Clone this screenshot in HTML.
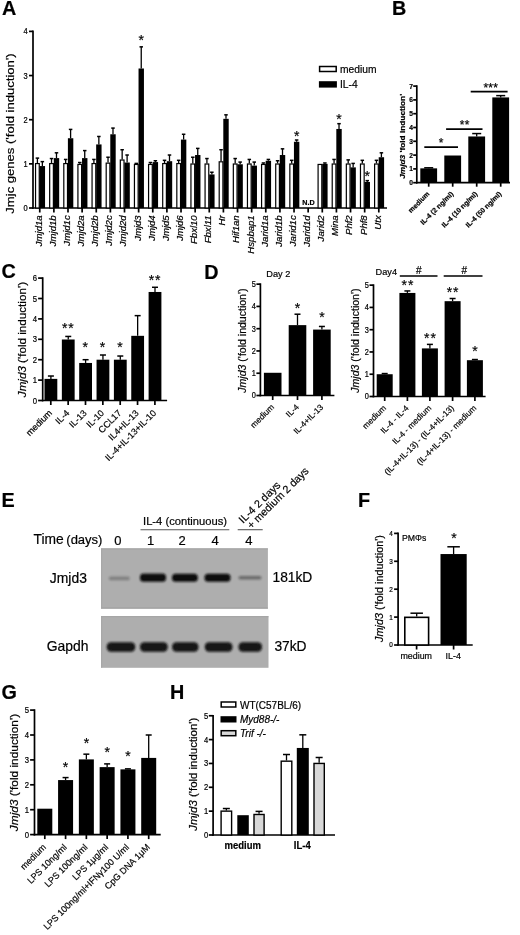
<!DOCTYPE html>
<html><head><meta charset="utf-8"><style>
html,body{margin:0;padding:0;background:#fff;}
body{width:520px;height:935px;overflow:hidden;}
svg{display:block;font-family:"Liberation Sans", sans-serif;}
</style></head><body>
<svg width="520" height="935" viewBox="0 0 520 935" font-family='"Liberation Sans", sans-serif'>
<defs><filter id="soft" x="0" y="0" width="100%" height="100%" filterUnits="userSpaceOnUse"><feGaussianBlur stdDeviation="0.35"/></filter></defs>
<rect x="0" y="0" width="520" height="935" fill="#fff"/>
<g filter="url(#soft)">
<text x="0" y="0" font-size="19.8" text-anchor="start" font-weight="bold" stroke="#000" stroke-width="0.2" fill="#000" transform="translate(1.90 15.30)">A</text>
<line x1="33.00" y1="30.55" x2="33.00" y2="208.85" stroke="#000" stroke-width="1.7"/>
<line x1="29.00" y1="208.00" x2="33.00" y2="208.00" stroke="#000" stroke-width="1.7"/>
<text x="0" y="0" font-size="7.5" text-anchor="end" stroke="#000" stroke-width="0.2" fill="#000" transform="translate(27.80 210.97) scale(1.000 1.100)">0</text>
<line x1="29.00" y1="163.85" x2="33.00" y2="163.85" stroke="#000" stroke-width="1.7"/>
<text x="0" y="0" font-size="7.5" text-anchor="end" stroke="#000" stroke-width="0.2" fill="#000" transform="translate(27.80 166.82) scale(1.000 1.100)">1</text>
<line x1="29.00" y1="119.70" x2="33.00" y2="119.70" stroke="#000" stroke-width="1.7"/>
<text x="0" y="0" font-size="7.5" text-anchor="end" stroke="#000" stroke-width="0.2" fill="#000" transform="translate(27.80 122.67) scale(1.000 1.100)">2</text>
<line x1="29.00" y1="75.55" x2="33.00" y2="75.55" stroke="#000" stroke-width="1.7"/>
<text x="0" y="0" font-size="7.5" text-anchor="end" stroke="#000" stroke-width="0.2" fill="#000" transform="translate(27.80 78.52) scale(1.000 1.100)">3</text>
<line x1="29.00" y1="31.40" x2="33.00" y2="31.40" stroke="#000" stroke-width="1.7"/>
<text x="0" y="0" font-size="7.5" text-anchor="end" stroke="#000" stroke-width="0.2" fill="#000" transform="translate(27.80 34.37) scale(1.000 1.100)">4</text>
<line x1="32.15" y1="208.00" x2="387.00" y2="208.00" stroke="#000" stroke-width="1.7"/>
<line x1="39.75" y1="208.00" x2="39.75" y2="212.50" stroke="#000" stroke-width="1.7"/>
<line x1="53.88" y1="208.00" x2="53.88" y2="212.50" stroke="#000" stroke-width="1.7"/>
<line x1="68.00" y1="208.00" x2="68.00" y2="212.50" stroke="#000" stroke-width="1.7"/>
<line x1="82.13" y1="208.00" x2="82.13" y2="212.50" stroke="#000" stroke-width="1.7"/>
<line x1="96.26" y1="208.00" x2="96.26" y2="212.50" stroke="#000" stroke-width="1.7"/>
<line x1="110.39" y1="208.00" x2="110.39" y2="212.50" stroke="#000" stroke-width="1.7"/>
<line x1="124.51" y1="208.00" x2="124.51" y2="212.50" stroke="#000" stroke-width="1.7"/>
<line x1="138.64" y1="208.00" x2="138.64" y2="212.50" stroke="#000" stroke-width="1.7"/>
<line x1="152.77" y1="208.00" x2="152.77" y2="212.50" stroke="#000" stroke-width="1.7"/>
<line x1="166.89" y1="208.00" x2="166.89" y2="212.50" stroke="#000" stroke-width="1.7"/>
<line x1="181.02" y1="208.00" x2="181.02" y2="212.50" stroke="#000" stroke-width="1.7"/>
<line x1="195.15" y1="208.00" x2="195.15" y2="212.50" stroke="#000" stroke-width="1.7"/>
<line x1="209.27" y1="208.00" x2="209.27" y2="212.50" stroke="#000" stroke-width="1.7"/>
<line x1="223.40" y1="208.00" x2="223.40" y2="212.50" stroke="#000" stroke-width="1.7"/>
<line x1="237.53" y1="208.00" x2="237.53" y2="212.50" stroke="#000" stroke-width="1.7"/>
<line x1="251.66" y1="208.00" x2="251.66" y2="212.50" stroke="#000" stroke-width="1.7"/>
<line x1="265.78" y1="208.00" x2="265.78" y2="212.50" stroke="#000" stroke-width="1.7"/>
<line x1="279.91" y1="208.00" x2="279.91" y2="212.50" stroke="#000" stroke-width="1.7"/>
<line x1="294.04" y1="208.00" x2="294.04" y2="212.50" stroke="#000" stroke-width="1.7"/>
<line x1="308.16" y1="208.00" x2="308.16" y2="212.50" stroke="#000" stroke-width="1.7"/>
<line x1="322.29" y1="208.00" x2="322.29" y2="212.50" stroke="#000" stroke-width="1.7"/>
<line x1="336.42" y1="208.00" x2="336.42" y2="212.50" stroke="#000" stroke-width="1.7"/>
<line x1="350.54" y1="208.00" x2="350.54" y2="212.50" stroke="#000" stroke-width="1.7"/>
<line x1="364.67" y1="208.00" x2="364.67" y2="212.50" stroke="#000" stroke-width="1.7"/>
<line x1="378.80" y1="208.00" x2="378.80" y2="212.50" stroke="#000" stroke-width="1.7"/>
<line x1="37.40" y1="162.97" x2="37.40" y2="158.11" stroke="#000" stroke-width="1.3"/>
<line x1="35.65" y1="158.11" x2="39.15" y2="158.11" stroke="#000" stroke-width="1.5"/>
<rect x="35.55" y="163.57" width="3.70" height="44.43" fill="#fff" stroke="#000" stroke-width="1.2"/>
<line x1="42.35" y1="166.06" x2="42.35" y2="161.64" stroke="#000" stroke-width="1.3"/>
<line x1="40.60" y1="161.64" x2="44.10" y2="161.64" stroke="#000" stroke-width="1.5"/>
<rect x="39.65" y="166.06" width="5.40" height="41.94" fill="#000"/>
<text x="0" y="0" font-size="8.2" text-anchor="end" stroke="#000" stroke-width="0.2" fill="#000" transform="translate(41.65 215.30) rotate(-90) scale(1.170 1.000)"><tspan font-style="italic">Jmjd1a</tspan></text>
<line x1="51.53" y1="162.97" x2="51.53" y2="158.55" stroke="#000" stroke-width="1.3"/>
<line x1="49.78" y1="158.55" x2="53.28" y2="158.55" stroke="#000" stroke-width="1.5"/>
<rect x="49.68" y="163.57" width="3.70" height="44.43" fill="#fff" stroke="#000" stroke-width="1.2"/>
<line x1="56.48" y1="158.11" x2="56.48" y2="152.81" stroke="#000" stroke-width="1.3"/>
<line x1="54.73" y1="152.81" x2="58.23" y2="152.81" stroke="#000" stroke-width="1.5"/>
<rect x="53.78" y="158.11" width="5.40" height="49.89" fill="#000"/>
<text x="0" y="0" font-size="8.2" text-anchor="end" stroke="#000" stroke-width="0.2" fill="#000" transform="translate(55.78 215.30) rotate(-90) scale(1.170 1.000)"><tspan font-style="italic">Jmjd1b</tspan></text>
<line x1="65.65" y1="162.97" x2="65.65" y2="159.44" stroke="#000" stroke-width="1.3"/>
<line x1="63.90" y1="159.44" x2="67.40" y2="159.44" stroke="#000" stroke-width="1.5"/>
<rect x="63.80" y="163.57" width="3.70" height="44.43" fill="#fff" stroke="#000" stroke-width="1.2"/>
<line x1="70.60" y1="138.24" x2="70.60" y2="129.41" stroke="#000" stroke-width="1.3"/>
<line x1="68.85" y1="129.41" x2="72.35" y2="129.41" stroke="#000" stroke-width="1.5"/>
<rect x="67.90" y="138.24" width="5.40" height="69.76" fill="#000"/>
<text x="0" y="0" font-size="8.2" text-anchor="end" stroke="#000" stroke-width="0.2" fill="#000" transform="translate(69.90 215.30) rotate(-90) scale(1.170 1.000)"><tspan font-style="italic">Jmjd1c</tspan></text>
<line x1="79.78" y1="163.85" x2="79.78" y2="162.53" stroke="#000" stroke-width="1.3"/>
<line x1="78.03" y1="162.53" x2="81.53" y2="162.53" stroke="#000" stroke-width="1.5"/>
<rect x="77.93" y="164.45" width="3.70" height="43.55" fill="#fff" stroke="#000" stroke-width="1.2"/>
<line x1="84.73" y1="158.11" x2="84.73" y2="150.60" stroke="#000" stroke-width="1.3"/>
<line x1="82.98" y1="150.60" x2="86.48" y2="150.60" stroke="#000" stroke-width="1.5"/>
<rect x="82.03" y="158.11" width="5.40" height="49.89" fill="#000"/>
<text x="0" y="0" font-size="8.2" text-anchor="end" stroke="#000" stroke-width="0.2" fill="#000" transform="translate(84.03 215.30) rotate(-90) scale(1.170 1.000)"><tspan font-style="italic">Jmjd2a</tspan></text>
<line x1="93.91" y1="162.97" x2="93.91" y2="159.44" stroke="#000" stroke-width="1.3"/>
<line x1="92.16" y1="159.44" x2="95.66" y2="159.44" stroke="#000" stroke-width="1.5"/>
<rect x="92.06" y="163.57" width="3.70" height="44.43" fill="#fff" stroke="#000" stroke-width="1.2"/>
<line x1="98.86" y1="144.42" x2="98.86" y2="136.48" stroke="#000" stroke-width="1.3"/>
<line x1="97.11" y1="136.48" x2="100.61" y2="136.48" stroke="#000" stroke-width="1.5"/>
<rect x="96.16" y="144.42" width="5.40" height="63.58" fill="#000"/>
<text x="0" y="0" font-size="8.2" text-anchor="end" stroke="#000" stroke-width="0.2" fill="#000" transform="translate(98.16 215.30) rotate(-90) scale(1.170 1.000)"><tspan font-style="italic">Jmjd2b</tspan></text>
<line x1="108.03" y1="162.53" x2="108.03" y2="157.23" stroke="#000" stroke-width="1.3"/>
<line x1="106.28" y1="157.23" x2="109.78" y2="157.23" stroke="#000" stroke-width="1.5"/>
<rect x="106.19" y="163.13" width="3.70" height="44.87" fill="#fff" stroke="#000" stroke-width="1.2"/>
<line x1="112.99" y1="134.27" x2="112.99" y2="128.09" stroke="#000" stroke-width="1.3"/>
<line x1="111.24" y1="128.09" x2="114.74" y2="128.09" stroke="#000" stroke-width="1.5"/>
<rect x="110.29" y="134.27" width="5.40" height="73.73" fill="#000"/>
<text x="0" y="0" font-size="8.2" text-anchor="end" stroke="#000" stroke-width="0.2" fill="#000" transform="translate(112.29 215.30) rotate(-90) scale(1.170 1.000)"><tspan font-style="italic">Jmjd2c</tspan></text>
<line x1="122.16" y1="159.44" x2="122.16" y2="149.72" stroke="#000" stroke-width="1.3"/>
<line x1="120.41" y1="149.72" x2="123.91" y2="149.72" stroke="#000" stroke-width="1.5"/>
<rect x="120.31" y="160.03" width="3.70" height="47.96" fill="#fff" stroke="#000" stroke-width="1.2"/>
<line x1="127.11" y1="162.53" x2="127.11" y2="155.02" stroke="#000" stroke-width="1.3"/>
<line x1="125.36" y1="155.02" x2="128.86" y2="155.02" stroke="#000" stroke-width="1.5"/>
<rect x="124.41" y="162.53" width="5.40" height="45.47" fill="#000"/>
<text x="0" y="0" font-size="8.2" text-anchor="end" stroke="#000" stroke-width="0.2" fill="#000" transform="translate(126.41 215.30) rotate(-90) scale(1.170 1.000)"><tspan font-style="italic">Jmjd2d</tspan></text>
<line x1="136.29" y1="163.85" x2="136.29" y2="163.41" stroke="#000" stroke-width="1.3"/>
<line x1="134.54" y1="163.41" x2="138.04" y2="163.41" stroke="#000" stroke-width="1.5"/>
<rect x="134.44" y="164.45" width="3.70" height="43.55" fill="#fff" stroke="#000" stroke-width="1.2"/>
<line x1="141.24" y1="68.49" x2="141.24" y2="46.85" stroke="#000" stroke-width="1.3"/>
<line x1="139.49" y1="46.85" x2="142.99" y2="46.85" stroke="#000" stroke-width="1.5"/>
<rect x="138.54" y="68.49" width="5.40" height="139.51" fill="#000"/>
<text x="0" y="0" font-size="8.2" text-anchor="end" stroke="#000" stroke-width="0.2" fill="#000" transform="translate(140.54 215.30) rotate(-90) scale(1.170 1.000)"><tspan font-style="italic">Jmjd3</tspan></text>
<line x1="150.42" y1="163.85" x2="150.42" y2="162.53" stroke="#000" stroke-width="1.3"/>
<line x1="148.67" y1="162.53" x2="152.17" y2="162.53" stroke="#000" stroke-width="1.5"/>
<rect x="148.57" y="164.45" width="3.70" height="43.55" fill="#fff" stroke="#000" stroke-width="1.2"/>
<line x1="155.37" y1="162.08" x2="155.37" y2="160.76" stroke="#000" stroke-width="1.3"/>
<line x1="153.62" y1="160.76" x2="157.12" y2="160.76" stroke="#000" stroke-width="1.5"/>
<rect x="152.67" y="162.08" width="5.40" height="45.92" fill="#000"/>
<text x="0" y="0" font-size="8.2" text-anchor="end" stroke="#000" stroke-width="0.2" fill="#000" transform="translate(154.67 215.30) rotate(-90) scale(1.170 1.000)"><tspan font-style="italic">Jmjd4</tspan></text>
<line x1="164.54" y1="162.97" x2="164.54" y2="160.32" stroke="#000" stroke-width="1.3"/>
<line x1="162.79" y1="160.32" x2="166.29" y2="160.32" stroke="#000" stroke-width="1.5"/>
<rect x="162.69" y="163.57" width="3.70" height="44.43" fill="#fff" stroke="#000" stroke-width="1.2"/>
<line x1="169.49" y1="161.20" x2="169.49" y2="155.02" stroke="#000" stroke-width="1.3"/>
<line x1="167.74" y1="155.02" x2="171.24" y2="155.02" stroke="#000" stroke-width="1.5"/>
<rect x="166.79" y="161.20" width="5.40" height="46.80" fill="#000"/>
<text x="0" y="0" font-size="8.2" text-anchor="end" stroke="#000" stroke-width="0.2" fill="#000" transform="translate(168.79 215.30) rotate(-90) scale(1.170 1.000)"><tspan font-style="italic">Jmjd5</tspan></text>
<line x1="178.67" y1="162.97" x2="178.67" y2="160.32" stroke="#000" stroke-width="1.3"/>
<line x1="176.92" y1="160.32" x2="180.42" y2="160.32" stroke="#000" stroke-width="1.5"/>
<rect x="176.82" y="163.57" width="3.70" height="44.43" fill="#fff" stroke="#000" stroke-width="1.2"/>
<line x1="183.62" y1="139.57" x2="183.62" y2="134.27" stroke="#000" stroke-width="1.3"/>
<line x1="181.87" y1="134.27" x2="185.37" y2="134.27" stroke="#000" stroke-width="1.5"/>
<rect x="180.92" y="139.57" width="5.40" height="68.43" fill="#000"/>
<text x="0" y="0" font-size="8.2" text-anchor="end" stroke="#000" stroke-width="0.2" fill="#000" transform="translate(182.92 215.30) rotate(-90) scale(1.170 1.000)"><tspan font-style="italic">Jmjd6</tspan></text>
<line x1="192.80" y1="163.41" x2="192.80" y2="157.23" stroke="#000" stroke-width="1.3"/>
<line x1="191.05" y1="157.23" x2="194.55" y2="157.23" stroke="#000" stroke-width="1.5"/>
<rect x="190.95" y="164.01" width="3.70" height="43.99" fill="#fff" stroke="#000" stroke-width="1.2"/>
<line x1="197.75" y1="155.02" x2="197.75" y2="148.40" stroke="#000" stroke-width="1.3"/>
<line x1="196.00" y1="148.40" x2="199.50" y2="148.40" stroke="#000" stroke-width="1.5"/>
<rect x="195.05" y="155.02" width="5.40" height="52.98" fill="#000"/>
<text x="0" y="0" font-size="8.2" text-anchor="end" stroke="#000" stroke-width="0.2" fill="#000" transform="translate(197.05 215.30) rotate(-90) scale(1.170 1.000)"><tspan font-style="italic">Fbxl10</tspan></text>
<line x1="206.92" y1="163.41" x2="206.92" y2="158.55" stroke="#000" stroke-width="1.3"/>
<line x1="205.17" y1="158.55" x2="208.67" y2="158.55" stroke="#000" stroke-width="1.5"/>
<rect x="205.07" y="164.01" width="3.70" height="43.99" fill="#fff" stroke="#000" stroke-width="1.2"/>
<line x1="211.87" y1="174.45" x2="211.87" y2="172.24" stroke="#000" stroke-width="1.3"/>
<line x1="210.12" y1="172.24" x2="213.62" y2="172.24" stroke="#000" stroke-width="1.5"/>
<rect x="209.17" y="174.45" width="5.40" height="33.55" fill="#000"/>
<text x="0" y="0" font-size="8.2" text-anchor="end" stroke="#000" stroke-width="0.2" fill="#000" transform="translate(211.17 215.30) rotate(-90) scale(1.170 1.000)"><tspan font-style="italic">Fbxl11</tspan></text>
<line x1="221.05" y1="161.20" x2="221.05" y2="149.72" stroke="#000" stroke-width="1.3"/>
<line x1="219.30" y1="149.72" x2="222.80" y2="149.72" stroke="#000" stroke-width="1.5"/>
<rect x="219.20" y="161.80" width="3.70" height="46.20" fill="#fff" stroke="#000" stroke-width="1.2"/>
<line x1="226.00" y1="118.82" x2="226.00" y2="114.84" stroke="#000" stroke-width="1.3"/>
<line x1="224.25" y1="114.84" x2="227.75" y2="114.84" stroke="#000" stroke-width="1.5"/>
<rect x="223.30" y="118.82" width="5.40" height="89.18" fill="#000"/>
<text x="0" y="0" font-size="8.2" text-anchor="end" stroke="#000" stroke-width="0.2" fill="#000" transform="translate(225.30 215.30) rotate(-90) scale(1.170 1.000)"><tspan font-style="italic">Hr</tspan></text>
<line x1="235.18" y1="163.41" x2="235.18" y2="158.55" stroke="#000" stroke-width="1.3"/>
<line x1="233.43" y1="158.55" x2="236.93" y2="158.55" stroke="#000" stroke-width="1.5"/>
<rect x="233.33" y="164.01" width="3.70" height="43.99" fill="#fff" stroke="#000" stroke-width="1.2"/>
<line x1="240.13" y1="164.29" x2="240.13" y2="162.08" stroke="#000" stroke-width="1.3"/>
<line x1="238.38" y1="162.08" x2="241.88" y2="162.08" stroke="#000" stroke-width="1.5"/>
<rect x="237.43" y="164.29" width="5.40" height="43.71" fill="#000"/>
<text x="0" y="0" font-size="8.2" text-anchor="end" stroke="#000" stroke-width="0.2" fill="#000" transform="translate(239.43 215.30) rotate(-90) scale(1.170 1.000)"><tspan font-style="italic">Hif1an</tspan></text>
<line x1="249.31" y1="163.41" x2="249.31" y2="159.44" stroke="#000" stroke-width="1.3"/>
<line x1="247.56" y1="159.44" x2="251.06" y2="159.44" stroke="#000" stroke-width="1.5"/>
<rect x="247.45" y="164.01" width="3.70" height="43.99" fill="#fff" stroke="#000" stroke-width="1.2"/>
<line x1="254.25" y1="165.62" x2="254.25" y2="162.08" stroke="#000" stroke-width="1.3"/>
<line x1="252.50" y1="162.08" x2="256.00" y2="162.08" stroke="#000" stroke-width="1.5"/>
<rect x="251.56" y="165.62" width="5.40" height="42.38" fill="#000"/>
<text x="0" y="0" font-size="8.2" text-anchor="end" stroke="#000" stroke-width="0.2" fill="#000" transform="translate(253.56 215.30) rotate(-90) scale(1.170 1.000)"><tspan font-style="italic">Hspbap1</tspan></text>
<line x1="263.43" y1="163.85" x2="263.43" y2="162.97" stroke="#000" stroke-width="1.3"/>
<line x1="261.68" y1="162.97" x2="265.18" y2="162.97" stroke="#000" stroke-width="1.5"/>
<rect x="261.58" y="164.45" width="3.70" height="43.55" fill="#fff" stroke="#000" stroke-width="1.2"/>
<line x1="268.38" y1="160.76" x2="268.38" y2="159.44" stroke="#000" stroke-width="1.3"/>
<line x1="266.63" y1="159.44" x2="270.13" y2="159.44" stroke="#000" stroke-width="1.5"/>
<rect x="265.68" y="160.76" width="5.40" height="47.24" fill="#000"/>
<text x="0" y="0" font-size="8.2" text-anchor="end" stroke="#000" stroke-width="0.2" fill="#000" transform="translate(267.68 215.30) rotate(-90) scale(1.170 1.000)"><tspan font-style="italic">Jarid1a</tspan></text>
<line x1="277.56" y1="163.41" x2="277.56" y2="160.76" stroke="#000" stroke-width="1.3"/>
<line x1="275.81" y1="160.76" x2="279.31" y2="160.76" stroke="#000" stroke-width="1.5"/>
<rect x="275.71" y="164.01" width="3.70" height="43.99" fill="#fff" stroke="#000" stroke-width="1.2"/>
<line x1="282.51" y1="155.02" x2="282.51" y2="148.84" stroke="#000" stroke-width="1.3"/>
<line x1="280.76" y1="148.84" x2="284.26" y2="148.84" stroke="#000" stroke-width="1.5"/>
<rect x="279.81" y="155.02" width="5.40" height="52.98" fill="#000"/>
<text x="0" y="0" font-size="8.2" text-anchor="end" stroke="#000" stroke-width="0.2" fill="#000" transform="translate(281.81 215.30) rotate(-90) scale(1.170 1.000)"><tspan font-style="italic">Jarid1b</tspan></text>
<line x1="291.69" y1="163.41" x2="291.69" y2="160.32" stroke="#000" stroke-width="1.3"/>
<line x1="289.94" y1="160.32" x2="293.44" y2="160.32" stroke="#000" stroke-width="1.5"/>
<rect x="289.84" y="164.01" width="3.70" height="43.99" fill="#fff" stroke="#000" stroke-width="1.2"/>
<line x1="296.64" y1="141.78" x2="296.64" y2="140.01" stroke="#000" stroke-width="1.3"/>
<line x1="294.89" y1="140.01" x2="298.39" y2="140.01" stroke="#000" stroke-width="1.5"/>
<rect x="293.94" y="141.78" width="5.40" height="66.22" fill="#000"/>
<text x="0" y="0" font-size="8.2" text-anchor="end" stroke="#000" stroke-width="0.2" fill="#000" transform="translate(295.94 215.30) rotate(-90) scale(1.170 1.000)"><tspan font-style="italic">Jarid1c</tspan></text>
<text x="0" y="0" font-size="8.2" text-anchor="end" stroke="#000" stroke-width="0.2" fill="#000" transform="translate(310.06 215.30) rotate(-90) scale(1.170 1.000)"><tspan font-style="italic">Jarid1d</tspan></text>
<rect x="318.09" y="164.45" width="3.70" height="43.55" fill="#fff" stroke="#000" stroke-width="1.2"/>
<line x1="324.89" y1="163.85" x2="324.89" y2="162.97" stroke="#000" stroke-width="1.3"/>
<line x1="323.14" y1="162.97" x2="326.64" y2="162.97" stroke="#000" stroke-width="1.5"/>
<rect x="322.19" y="163.85" width="5.40" height="44.15" fill="#000"/>
<text x="0" y="0" font-size="8.2" text-anchor="end" stroke="#000" stroke-width="0.2" fill="#000" transform="translate(324.19 215.30) rotate(-90) scale(1.170 1.000)"><tspan font-style="italic">Jarid2</tspan></text>
<line x1="334.07" y1="163.41" x2="334.07" y2="159.44" stroke="#000" stroke-width="1.3"/>
<line x1="332.32" y1="159.44" x2="335.82" y2="159.44" stroke="#000" stroke-width="1.5"/>
<rect x="332.22" y="164.01" width="3.70" height="43.99" fill="#fff" stroke="#000" stroke-width="1.2"/>
<line x1="339.02" y1="128.97" x2="339.02" y2="123.67" stroke="#000" stroke-width="1.3"/>
<line x1="337.27" y1="123.67" x2="340.77" y2="123.67" stroke="#000" stroke-width="1.5"/>
<rect x="336.32" y="128.97" width="5.40" height="79.03" fill="#000"/>
<text x="0" y="0" font-size="8.2" text-anchor="end" stroke="#000" stroke-width="0.2" fill="#000" transform="translate(338.32 215.30) rotate(-90) scale(1.170 1.000)"><tspan font-style="italic">Mina</tspan></text>
<line x1="348.19" y1="163.41" x2="348.19" y2="159.88" stroke="#000" stroke-width="1.3"/>
<line x1="346.44" y1="159.88" x2="349.94" y2="159.88" stroke="#000" stroke-width="1.5"/>
<rect x="346.34" y="164.01" width="3.70" height="43.99" fill="#fff" stroke="#000" stroke-width="1.2"/>
<line x1="353.14" y1="167.38" x2="353.14" y2="163.41" stroke="#000" stroke-width="1.3"/>
<line x1="351.39" y1="163.41" x2="354.89" y2="163.41" stroke="#000" stroke-width="1.5"/>
<rect x="350.44" y="167.38" width="5.40" height="40.62" fill="#000"/>
<text x="0" y="0" font-size="8.2" text-anchor="end" stroke="#000" stroke-width="0.2" fill="#000" transform="translate(352.44 215.30) rotate(-90) scale(1.170 1.000)"><tspan font-style="italic">Phf2</tspan></text>
<line x1="362.32" y1="163.41" x2="362.32" y2="160.32" stroke="#000" stroke-width="1.3"/>
<line x1="360.57" y1="160.32" x2="364.07" y2="160.32" stroke="#000" stroke-width="1.5"/>
<rect x="360.47" y="164.01" width="3.70" height="43.99" fill="#fff" stroke="#000" stroke-width="1.2"/>
<line x1="367.27" y1="181.95" x2="367.27" y2="180.63" stroke="#000" stroke-width="1.3"/>
<line x1="365.52" y1="180.63" x2="369.02" y2="180.63" stroke="#000" stroke-width="1.5"/>
<rect x="364.57" y="181.95" width="5.40" height="26.05" fill="#000"/>
<text x="0" y="0" font-size="8.2" text-anchor="end" stroke="#000" stroke-width="0.2" fill="#000" transform="translate(366.57 215.30) rotate(-90) scale(1.170 1.000)"><tspan font-style="italic">Phf8</tspan></text>
<line x1="376.45" y1="163.41" x2="376.45" y2="160.32" stroke="#000" stroke-width="1.3"/>
<line x1="374.70" y1="160.32" x2="378.20" y2="160.32" stroke="#000" stroke-width="1.5"/>
<rect x="374.60" y="164.01" width="3.70" height="43.99" fill="#fff" stroke="#000" stroke-width="1.2"/>
<line x1="381.40" y1="157.23" x2="381.40" y2="152.81" stroke="#000" stroke-width="1.3"/>
<line x1="379.65" y1="152.81" x2="383.15" y2="152.81" stroke="#000" stroke-width="1.5"/>
<rect x="378.70" y="157.23" width="5.40" height="50.77" fill="#000"/>
<text x="0" y="0" font-size="8.2" text-anchor="end" stroke="#000" stroke-width="0.2" fill="#000" transform="translate(380.70 215.30) rotate(-90) scale(1.170 1.000)"><tspan font-style="italic">Utx</tspan></text>
<text x="0" y="0" font-size="14" text-anchor="middle" stroke="#000" stroke-width="0.2" fill="#000" transform="translate(141.24 45.28)">*</text>
<text x="0" y="0" font-size="14" text-anchor="middle" stroke="#000" stroke-width="0.2" fill="#000" transform="translate(296.64 140.78)">*</text>
<text x="0" y="0" font-size="14" text-anchor="middle" stroke="#000" stroke-width="0.2" fill="#000" transform="translate(339.02 124.38)">*</text>
<text x="0" y="0" font-size="14" text-anchor="middle" stroke="#000" stroke-width="0.2" fill="#000" transform="translate(367.27 181.08)">*</text>
<text x="0" y="0" font-size="7.2" text-anchor="middle" font-weight="bold" stroke="#000" stroke-width="0.2" fill="#000" transform="translate(308.50 205.30) scale(1.000 1.100)">N.D</text>
<text x="0" y="0" font-size="11.5" text-anchor="middle" stroke="#000" stroke-width="0.2" fill="#000" transform="translate(14.30 133.50) rotate(-90) scale(1.138 1.000)">Jmjc genes ('fold induction')</text>
<rect x="319.60" y="66.50" width="16.60" height="5.00" fill="#fff" stroke="#000" stroke-width="1.5"/>
<rect x="318.90" y="81.20" width="18.00" height="6.40" fill="#000"/>
<text x="0" y="0" font-size="10.3" text-anchor="start" stroke="#000" stroke-width="0.2" fill="#000" transform="translate(340.00 72.70) scale(1.000 1.100)">medium</text>
<text x="0" y="0" font-size="10.3" text-anchor="start" stroke="#000" stroke-width="0.2" fill="#000" transform="translate(340.00 87.60) scale(1.000 1.100)">IL-4</text>
<text x="0" y="0" font-size="19.8" text-anchor="start" font-weight="bold" stroke="#000" stroke-width="0.2" fill="#000" transform="translate(391.90 15.20)">B</text>
<line x1="416.80" y1="85.25" x2="416.80" y2="183.55" stroke="#000" stroke-width="1.7"/>
<line x1="413.20" y1="182.70" x2="416.80" y2="182.70" stroke="#000" stroke-width="1.7"/>
<text x="0" y="0" font-size="6.7" text-anchor="end" font-weight="bold" stroke="#000" stroke-width="0.2" fill="#000" transform="translate(413.00 185.23) scale(1.000 1.050)">0</text>
<line x1="413.20" y1="168.90" x2="416.80" y2="168.90" stroke="#000" stroke-width="1.7"/>
<text x="0" y="0" font-size="6.7" text-anchor="end" font-weight="bold" stroke="#000" stroke-width="0.2" fill="#000" transform="translate(413.00 171.43) scale(1.000 1.050)">1</text>
<line x1="413.20" y1="155.10" x2="416.80" y2="155.10" stroke="#000" stroke-width="1.7"/>
<text x="0" y="0" font-size="6.7" text-anchor="end" font-weight="bold" stroke="#000" stroke-width="0.2" fill="#000" transform="translate(413.00 157.63) scale(1.000 1.050)">2</text>
<line x1="413.20" y1="141.30" x2="416.80" y2="141.30" stroke="#000" stroke-width="1.7"/>
<text x="0" y="0" font-size="6.7" text-anchor="end" font-weight="bold" stroke="#000" stroke-width="0.2" fill="#000" transform="translate(413.00 143.83) scale(1.000 1.050)">3</text>
<line x1="413.20" y1="127.50" x2="416.80" y2="127.50" stroke="#000" stroke-width="1.7"/>
<text x="0" y="0" font-size="6.7" text-anchor="end" font-weight="bold" stroke="#000" stroke-width="0.2" fill="#000" transform="translate(413.00 130.03) scale(1.000 1.050)">4</text>
<line x1="413.20" y1="113.70" x2="416.80" y2="113.70" stroke="#000" stroke-width="1.7"/>
<text x="0" y="0" font-size="6.7" text-anchor="end" font-weight="bold" stroke="#000" stroke-width="0.2" fill="#000" transform="translate(413.00 116.23) scale(1.000 1.050)">5</text>
<line x1="413.20" y1="99.90" x2="416.80" y2="99.90" stroke="#000" stroke-width="1.7"/>
<text x="0" y="0" font-size="6.7" text-anchor="end" font-weight="bold" stroke="#000" stroke-width="0.2" fill="#000" transform="translate(413.00 102.43) scale(1.000 1.050)">6</text>
<line x1="413.20" y1="86.10" x2="416.80" y2="86.10" stroke="#000" stroke-width="1.7"/>
<text x="0" y="0" font-size="6.7" text-anchor="end" font-weight="bold" stroke="#000" stroke-width="0.2" fill="#000" transform="translate(413.00 88.63) scale(1.000 1.050)">7</text>
<line x1="415.95" y1="182.70" x2="510.00" y2="182.70" stroke="#000" stroke-width="1.7"/>
<line x1="428.70" y1="182.70" x2="428.70" y2="186.70" stroke="#000" stroke-width="1.7"/>
<line x1="452.70" y1="182.70" x2="452.70" y2="186.70" stroke="#000" stroke-width="1.7"/>
<line x1="476.70" y1="182.70" x2="476.70" y2="186.70" stroke="#000" stroke-width="1.7"/>
<line x1="500.70" y1="182.70" x2="500.70" y2="186.70" stroke="#000" stroke-width="1.7"/>
<line x1="428.70" y1="168.35" x2="428.70" y2="167.80" stroke="#000" stroke-width="1.3"/>
<line x1="424.20" y1="167.80" x2="433.20" y2="167.80" stroke="#000" stroke-width="1.5"/>
<rect x="420.30" y="168.35" width="16.80" height="14.35" fill="#000"/>
<rect x="444.30" y="155.51" width="16.80" height="27.19" fill="#000"/>
<line x1="476.70" y1="136.47" x2="476.70" y2="133.57" stroke="#000" stroke-width="1.3"/>
<line x1="472.20" y1="133.57" x2="481.20" y2="133.57" stroke="#000" stroke-width="1.5"/>
<rect x="468.30" y="136.47" width="16.80" height="46.23" fill="#000"/>
<line x1="500.70" y1="97.42" x2="500.70" y2="95.62" stroke="#000" stroke-width="1.3"/>
<line x1="496.20" y1="95.62" x2="505.20" y2="95.62" stroke="#000" stroke-width="1.5"/>
<rect x="492.30" y="97.42" width="16.80" height="85.28" fill="#000"/>
<line x1="424.30" y1="147.10" x2="458.00" y2="147.10" stroke="#000" stroke-width="1.7"/>
<text x="0" y="0" font-size="12" text-anchor="middle" stroke="#000" stroke-width="0.2" fill="#000" transform="translate(441.20 146.54)">*</text>
<line x1="446.10" y1="129.20" x2="482.50" y2="129.20" stroke="#000" stroke-width="1.7"/>
<text x="0" y="0" font-size="12" text-anchor="middle" stroke="#000" stroke-width="0.2" fill="#000" transform="translate(464.70 129.04)" letter-spacing="0.2">**</text>
<line x1="470.70" y1="91.60" x2="507.60" y2="91.60" stroke="#000" stroke-width="1.7"/>
<text x="0" y="0" font-size="12" text-anchor="middle" stroke="#000" stroke-width="0.2" fill="#000" transform="translate(490.70 91.64)" letter-spacing="0.2">***</text>
<text x="0" y="0" font-size="7.6" text-anchor="middle" font-weight="bold" stroke="#000" stroke-width="0.2" fill="#000" transform="translate(405.00 136.30) rotate(-90) scale(1.091 1.000)"><tspan font-style="italic">Jmjd3</tspan> 'fold induction'</text>
<text x="0" y="0" font-size="7.0" text-anchor="end" font-weight="bold" stroke="#000" stroke-width="0.2" fill="#000" transform="translate(428.20 192.60) rotate(-45)" dominant-baseline="central">medium</text>
<text x="0" y="0" font-size="7.0" text-anchor="end" font-weight="bold" stroke="#000" stroke-width="0.2" fill="#000" transform="translate(452.20 192.60) rotate(-45)" dominant-baseline="central">IL-4 (2 ng/ml)</text>
<text x="0" y="0" font-size="7.0" text-anchor="end" font-weight="bold" stroke="#000" stroke-width="0.2" fill="#000" transform="translate(476.20 192.60) rotate(-45)" dominant-baseline="central">IL-4 (10 ng/ml)</text>
<text x="0" y="0" font-size="7.0" text-anchor="end" font-weight="bold" stroke="#000" stroke-width="0.2" fill="#000" transform="translate(500.20 192.60) rotate(-45)" dominant-baseline="central">IL-4 (50 ng/ml)</text>
<text x="0" y="0" font-size="19.8" text-anchor="start" font-weight="bold" stroke="#000" stroke-width="0.2" fill="#000" transform="translate(1.60 278.20)">C</text>
<line x1="42.70" y1="277.25" x2="42.70" y2="401.35" stroke="#000" stroke-width="1.7"/>
<line x1="38.10" y1="400.50" x2="42.70" y2="400.50" stroke="#000" stroke-width="1.7"/>
<text x="0" y="0" font-size="7.7" text-anchor="end" stroke="#000" stroke-width="0.2" fill="#000" transform="translate(37.10 403.55) scale(1.000 1.100)">0</text>
<line x1="38.10" y1="380.10" x2="42.70" y2="380.10" stroke="#000" stroke-width="1.7"/>
<text x="0" y="0" font-size="7.7" text-anchor="end" stroke="#000" stroke-width="0.2" fill="#000" transform="translate(37.10 383.15) scale(1.000 1.100)">1</text>
<line x1="38.10" y1="359.70" x2="42.70" y2="359.70" stroke="#000" stroke-width="1.7"/>
<text x="0" y="0" font-size="7.7" text-anchor="end" stroke="#000" stroke-width="0.2" fill="#000" transform="translate(37.10 362.75) scale(1.000 1.100)">2</text>
<line x1="38.10" y1="339.30" x2="42.70" y2="339.30" stroke="#000" stroke-width="1.7"/>
<text x="0" y="0" font-size="7.7" text-anchor="end" stroke="#000" stroke-width="0.2" fill="#000" transform="translate(37.10 342.35) scale(1.000 1.100)">3</text>
<line x1="38.10" y1="318.90" x2="42.70" y2="318.90" stroke="#000" stroke-width="1.7"/>
<text x="0" y="0" font-size="7.7" text-anchor="end" stroke="#000" stroke-width="0.2" fill="#000" transform="translate(37.10 321.95) scale(1.000 1.100)">4</text>
<line x1="38.10" y1="298.50" x2="42.70" y2="298.50" stroke="#000" stroke-width="1.7"/>
<text x="0" y="0" font-size="7.7" text-anchor="end" stroke="#000" stroke-width="0.2" fill="#000" transform="translate(37.10 301.55) scale(1.000 1.100)">5</text>
<line x1="38.10" y1="278.10" x2="42.70" y2="278.10" stroke="#000" stroke-width="1.7"/>
<text x="0" y="0" font-size="7.7" text-anchor="end" stroke="#000" stroke-width="0.2" fill="#000" transform="translate(37.10 281.15) scale(1.000 1.100)">6</text>
<line x1="41.85" y1="400.50" x2="167.10" y2="400.50" stroke="#000" stroke-width="1.7"/>
<line x1="50.80" y1="400.50" x2="50.80" y2="405.00" stroke="#000" stroke-width="1.7"/>
<line x1="68.15" y1="400.50" x2="68.15" y2="405.00" stroke="#000" stroke-width="1.7"/>
<line x1="85.50" y1="400.50" x2="85.50" y2="405.00" stroke="#000" stroke-width="1.7"/>
<line x1="102.85" y1="400.50" x2="102.85" y2="405.00" stroke="#000" stroke-width="1.7"/>
<line x1="120.20" y1="400.50" x2="120.20" y2="405.00" stroke="#000" stroke-width="1.7"/>
<line x1="137.55" y1="400.50" x2="137.55" y2="405.00" stroke="#000" stroke-width="1.7"/>
<line x1="154.90" y1="400.50" x2="154.90" y2="405.00" stroke="#000" stroke-width="1.7"/>
<line x1="50.90" y1="378.88" x2="50.90" y2="376.02" stroke="#000" stroke-width="1.3"/>
<line x1="47.90" y1="376.02" x2="53.90" y2="376.02" stroke="#000" stroke-width="1.5"/>
<rect x="44.50" y="378.88" width="12.80" height="21.62" fill="#000"/>
<line x1="68.25" y1="339.50" x2="68.25" y2="336.44" stroke="#000" stroke-width="1.3"/>
<line x1="65.25" y1="336.44" x2="71.25" y2="336.44" stroke="#000" stroke-width="1.5"/>
<rect x="61.85" y="339.50" width="12.80" height="61.00" fill="#000"/>
<line x1="85.60" y1="362.96" x2="85.60" y2="359.70" stroke="#000" stroke-width="1.3"/>
<line x1="82.60" y1="359.70" x2="88.60" y2="359.70" stroke="#000" stroke-width="1.5"/>
<rect x="79.20" y="362.96" width="12.80" height="37.54" fill="#000"/>
<line x1="102.95" y1="359.70" x2="102.95" y2="355.01" stroke="#000" stroke-width="1.3"/>
<line x1="99.95" y1="355.01" x2="105.95" y2="355.01" stroke="#000" stroke-width="1.5"/>
<rect x="96.55" y="359.70" width="12.80" height="40.80" fill="#000"/>
<line x1="120.30" y1="359.70" x2="120.30" y2="356.03" stroke="#000" stroke-width="1.3"/>
<line x1="117.30" y1="356.03" x2="123.30" y2="356.03" stroke="#000" stroke-width="1.5"/>
<rect x="113.90" y="359.70" width="12.80" height="40.80" fill="#000"/>
<line x1="137.65" y1="335.83" x2="137.65" y2="315.64" stroke="#000" stroke-width="1.3"/>
<line x1="134.65" y1="315.64" x2="140.65" y2="315.64" stroke="#000" stroke-width="1.5"/>
<rect x="131.25" y="335.83" width="12.80" height="64.67" fill="#000"/>
<line x1="155.00" y1="291.97" x2="155.00" y2="287.28" stroke="#000" stroke-width="1.3"/>
<line x1="152.00" y1="287.28" x2="158.00" y2="287.28" stroke="#000" stroke-width="1.5"/>
<rect x="148.60" y="291.97" width="12.80" height="108.53" fill="#000"/>
<text x="0" y="0" font-size="14" text-anchor="middle" stroke="#000" stroke-width="0.2" fill="#000" transform="translate(68.35 332.88)" letter-spacing="1.0">**</text>
<text x="0" y="0" font-size="14" text-anchor="middle" stroke="#000" stroke-width="0.2" fill="#000" transform="translate(85.20 351.58)">*</text>
<text x="0" y="0" font-size="14" text-anchor="middle" stroke="#000" stroke-width="0.2" fill="#000" transform="translate(102.55 351.58)">*</text>
<text x="0" y="0" font-size="14" text-anchor="middle" stroke="#000" stroke-width="0.2" fill="#000" transform="translate(119.90 351.58)">*</text>
<text x="0" y="0" font-size="14" text-anchor="middle" stroke="#000" stroke-width="0.2" fill="#000" transform="translate(155.10 285.28)" letter-spacing="1.0">**</text>
<text x="0" y="0" font-size="11.2" text-anchor="middle" stroke="#000" stroke-width="0.2" fill="#000" transform="translate(26.40 339.60) rotate(-90) scale(1.042 1.000)"><tspan font-style="italic">Jmjd3</tspan> ('fold induction')</text>
<text x="0" y="0" font-size="9.1" text-anchor="end" stroke="#000" stroke-width="0.2" fill="#000" transform="translate(50.50 411.50) rotate(-45)" dominant-baseline="central">medium</text>
<text x="0" y="0" font-size="9.1" text-anchor="end" stroke="#000" stroke-width="0.2" fill="#000" transform="translate(67.85 411.50) rotate(-45)" dominant-baseline="central">IL-4</text>
<text x="0" y="0" font-size="9.1" text-anchor="end" stroke="#000" stroke-width="0.2" fill="#000" transform="translate(85.20 411.50) rotate(-45)" dominant-baseline="central">IL-13</text>
<text x="0" y="0" font-size="9.1" text-anchor="end" stroke="#000" stroke-width="0.2" fill="#000" transform="translate(102.55 411.50) rotate(-45)" dominant-baseline="central">IL-10</text>
<text x="0" y="0" font-size="9.1" text-anchor="end" stroke="#000" stroke-width="0.2" fill="#000" transform="translate(119.90 411.50) rotate(-45)" dominant-baseline="central">CCL17</text>
<text x="0" y="0" font-size="9.1" text-anchor="end" stroke="#000" stroke-width="0.2" fill="#000" transform="translate(137.25 411.50) rotate(-45)" dominant-baseline="central">IL4+IL-13</text>
<text x="0" y="0" font-size="9.1" text-anchor="end" stroke="#000" stroke-width="0.2" fill="#000" transform="translate(154.60 411.50) rotate(-45)" dominant-baseline="central">IL-4+IL-13+IL-10</text>
<text x="0" y="0" font-size="19.8" text-anchor="start" font-weight="bold" stroke="#000" stroke-width="0.2" fill="#000" transform="translate(204.30 279.30)">D</text>
<line x1="260.40" y1="283.30" x2="260.40" y2="396.35" stroke="#000" stroke-width="1.7"/>
<line x1="256.40" y1="395.50" x2="260.40" y2="395.50" stroke="#000" stroke-width="1.7"/>
<text x="0" y="0" font-size="7.4" text-anchor="end" stroke="#000" stroke-width="0.2" fill="#000" transform="translate(255.80 398.43) scale(1.000 1.100)">0</text>
<line x1="256.40" y1="373.23" x2="260.40" y2="373.23" stroke="#000" stroke-width="1.7"/>
<text x="0" y="0" font-size="7.4" text-anchor="end" stroke="#000" stroke-width="0.2" fill="#000" transform="translate(255.80 376.16) scale(1.000 1.100)">1</text>
<line x1="256.40" y1="350.96" x2="260.40" y2="350.96" stroke="#000" stroke-width="1.7"/>
<text x="0" y="0" font-size="7.4" text-anchor="end" stroke="#000" stroke-width="0.2" fill="#000" transform="translate(255.80 353.89) scale(1.000 1.100)">2</text>
<line x1="256.40" y1="328.69" x2="260.40" y2="328.69" stroke="#000" stroke-width="1.7"/>
<text x="0" y="0" font-size="7.4" text-anchor="end" stroke="#000" stroke-width="0.2" fill="#000" transform="translate(255.80 331.62) scale(1.000 1.100)">3</text>
<line x1="256.40" y1="306.42" x2="260.40" y2="306.42" stroke="#000" stroke-width="1.7"/>
<text x="0" y="0" font-size="7.4" text-anchor="end" stroke="#000" stroke-width="0.2" fill="#000" transform="translate(255.80 309.35) scale(1.000 1.100)">4</text>
<line x1="256.40" y1="284.15" x2="260.40" y2="284.15" stroke="#000" stroke-width="1.7"/>
<text x="0" y="0" font-size="7.4" text-anchor="end" stroke="#000" stroke-width="0.2" fill="#000" transform="translate(255.80 287.08) scale(1.000 1.100)">5</text>
<line x1="259.55" y1="395.50" x2="334.40" y2="395.50" stroke="#000" stroke-width="1.7"/>
<line x1="272.70" y1="395.50" x2="272.70" y2="400.00" stroke="#000" stroke-width="1.7"/>
<line x1="297.50" y1="395.50" x2="297.50" y2="400.00" stroke="#000" stroke-width="1.7"/>
<line x1="321.90" y1="395.50" x2="321.90" y2="400.00" stroke="#000" stroke-width="1.7"/>
<rect x="263.90" y="372.78" width="17.60" height="22.72" fill="#000"/>
<line x1="297.50" y1="325.13" x2="297.50" y2="314.21" stroke="#000" stroke-width="1.3"/>
<line x1="294.50" y1="314.21" x2="300.50" y2="314.21" stroke="#000" stroke-width="1.5"/>
<rect x="288.70" y="325.13" width="17.60" height="70.37" fill="#000"/>
<line x1="321.90" y1="329.58" x2="321.90" y2="326.46" stroke="#000" stroke-width="1.3"/>
<line x1="318.90" y1="326.46" x2="324.90" y2="326.46" stroke="#000" stroke-width="1.5"/>
<rect x="313.10" y="329.58" width="17.60" height="65.92" fill="#000"/>
<text x="0" y="0" font-size="14" text-anchor="middle" stroke="#000" stroke-width="0.2" fill="#000" transform="translate(297.50 312.88)">*</text>
<text x="0" y="0" font-size="14" text-anchor="middle" stroke="#000" stroke-width="0.2" fill="#000" transform="translate(321.90 322.08)">*</text>
<text x="0" y="0" font-size="9.2" text-anchor="start" stroke="#000" stroke-width="0.2" fill="#000" transform="translate(266.30 277.10)">Day 2</text>
<text x="0" y="0" font-size="10.5" text-anchor="middle" stroke="#000" stroke-width="0.2" fill="#000" transform="translate(245.60 340.60) rotate(-90) scale(1.004 1.000)"><tspan font-style="italic">Jmjd3</tspan> ('fold induction')</text>
<text x="0" y="0" font-size="8.3" text-anchor="end" stroke="#000" stroke-width="0.2" fill="#000" transform="translate(272.50 405.50) rotate(-45)" dominant-baseline="central">medium</text>
<text x="0" y="0" font-size="8.3" text-anchor="end" stroke="#000" stroke-width="0.2" fill="#000" transform="translate(297.30 405.50) rotate(-45)" dominant-baseline="central">IL-4</text>
<text x="0" y="0" font-size="8.3" text-anchor="end" stroke="#000" stroke-width="0.2" fill="#000" transform="translate(321.70 405.50) rotate(-45)" dominant-baseline="central">IL-4+IL-13</text>
<line x1="373.50" y1="284.30" x2="373.50" y2="397.35" stroke="#000" stroke-width="1.7"/>
<line x1="369.50" y1="396.50" x2="373.50" y2="396.50" stroke="#000" stroke-width="1.7"/>
<text x="0" y="0" font-size="7.4" text-anchor="end" stroke="#000" stroke-width="0.2" fill="#000" transform="translate(368.90 399.43) scale(1.000 1.100)">0</text>
<line x1="369.50" y1="374.23" x2="373.50" y2="374.23" stroke="#000" stroke-width="1.7"/>
<text x="0" y="0" font-size="7.4" text-anchor="end" stroke="#000" stroke-width="0.2" fill="#000" transform="translate(368.90 377.16) scale(1.000 1.100)">1</text>
<line x1="369.50" y1="351.96" x2="373.50" y2="351.96" stroke="#000" stroke-width="1.7"/>
<text x="0" y="0" font-size="7.4" text-anchor="end" stroke="#000" stroke-width="0.2" fill="#000" transform="translate(368.90 354.89) scale(1.000 1.100)">2</text>
<line x1="369.50" y1="329.69" x2="373.50" y2="329.69" stroke="#000" stroke-width="1.7"/>
<text x="0" y="0" font-size="7.4" text-anchor="end" stroke="#000" stroke-width="0.2" fill="#000" transform="translate(368.90 332.62) scale(1.000 1.100)">3</text>
<line x1="369.50" y1="307.42" x2="373.50" y2="307.42" stroke="#000" stroke-width="1.7"/>
<text x="0" y="0" font-size="7.4" text-anchor="end" stroke="#000" stroke-width="0.2" fill="#000" transform="translate(368.90 310.35) scale(1.000 1.100)">4</text>
<line x1="369.50" y1="285.15" x2="373.50" y2="285.15" stroke="#000" stroke-width="1.7"/>
<text x="0" y="0" font-size="7.4" text-anchor="end" stroke="#000" stroke-width="0.2" fill="#000" transform="translate(368.90 288.08) scale(1.000 1.100)">5</text>
<line x1="372.65" y1="396.50" x2="485.60" y2="396.50" stroke="#000" stroke-width="1.7"/>
<line x1="384.70" y1="396.50" x2="384.70" y2="401.00" stroke="#000" stroke-width="1.7"/>
<line x1="407.40" y1="396.50" x2="407.40" y2="401.00" stroke="#000" stroke-width="1.7"/>
<line x1="429.90" y1="396.50" x2="429.90" y2="401.00" stroke="#000" stroke-width="1.7"/>
<line x1="452.60" y1="396.50" x2="452.60" y2="401.00" stroke="#000" stroke-width="1.7"/>
<line x1="474.90" y1="396.50" x2="474.90" y2="401.00" stroke="#000" stroke-width="1.7"/>
<line x1="384.70" y1="374.23" x2="384.70" y2="373.56" stroke="#000" stroke-width="1.3"/>
<line x1="381.70" y1="373.56" x2="387.70" y2="373.56" stroke="#000" stroke-width="1.5"/>
<rect x="376.70" y="374.23" width="16.00" height="22.27" fill="#000"/>
<line x1="407.40" y1="292.94" x2="407.40" y2="290.94" stroke="#000" stroke-width="1.3"/>
<line x1="404.40" y1="290.94" x2="410.40" y2="290.94" stroke="#000" stroke-width="1.5"/>
<rect x="399.40" y="292.94" width="16.00" height="103.56" fill="#000"/>
<line x1="429.90" y1="348.40" x2="429.90" y2="344.39" stroke="#000" stroke-width="1.3"/>
<line x1="426.90" y1="344.39" x2="432.90" y2="344.39" stroke="#000" stroke-width="1.5"/>
<rect x="421.90" y="348.40" width="16.00" height="48.10" fill="#000"/>
<line x1="452.60" y1="301.18" x2="452.60" y2="298.51" stroke="#000" stroke-width="1.3"/>
<line x1="449.60" y1="298.51" x2="455.60" y2="298.51" stroke="#000" stroke-width="1.5"/>
<rect x="444.60" y="301.18" width="16.00" height="95.32" fill="#000"/>
<line x1="474.90" y1="360.20" x2="474.90" y2="359.53" stroke="#000" stroke-width="1.3"/>
<line x1="471.90" y1="359.53" x2="477.90" y2="359.53" stroke="#000" stroke-width="1.5"/>
<rect x="466.90" y="360.20" width="16.00" height="36.30" fill="#000"/>
<text x="0" y="0" font-size="14" text-anchor="middle" stroke="#000" stroke-width="0.2" fill="#000" transform="translate(407.90 289.98)" letter-spacing="1.0">**</text>
<text x="0" y="0" font-size="14" text-anchor="middle" stroke="#000" stroke-width="0.2" fill="#000" transform="translate(430.40 343.08)" letter-spacing="1.0">**</text>
<text x="0" y="0" font-size="14" text-anchor="middle" stroke="#000" stroke-width="0.2" fill="#000" transform="translate(453.10 296.78)" letter-spacing="1.0">**</text>
<text x="0" y="0" font-size="14" text-anchor="middle" stroke="#000" stroke-width="0.2" fill="#000" transform="translate(474.90 355.98)">*</text>
<line x1="399.80" y1="276.00" x2="437.50" y2="276.00" stroke="#000" stroke-width="1.6"/>
<text x="0" y="0" font-size="10" text-anchor="middle" stroke="#000" stroke-width="0.2" fill="#000" transform="translate(418.70 274.30)">#</text>
<line x1="443.70" y1="276.00" x2="482.50" y2="276.00" stroke="#000" stroke-width="1.6"/>
<text x="0" y="0" font-size="10" text-anchor="middle" stroke="#000" stroke-width="0.2" fill="#000" transform="translate(464.40 274.30)">#</text>
<text x="0" y="0" font-size="9.2" text-anchor="start" stroke="#000" stroke-width="0.2" fill="#000" transform="translate(375.60 274.90)">Day4</text>
<text x="0" y="0" font-size="10.5" text-anchor="middle" stroke="#000" stroke-width="0.2" fill="#000" transform="translate(359.00 340.60) rotate(-90) scale(1.004 1.000)"><tspan font-style="italic">Jmjd3</tspan> ('fold induction')</text>
<text x="0" y="0" font-size="8.3" text-anchor="end" stroke="#000" stroke-width="0.2" fill="#000" transform="translate(384.50 406.50) rotate(-45)" dominant-baseline="central">medium</text>
<text x="0" y="0" font-size="8.3" text-anchor="end" stroke="#000" stroke-width="0.2" fill="#000" transform="translate(407.20 406.50) rotate(-45)" dominant-baseline="central">IL-4 - IL-4</text>
<text x="0" y="0" font-size="8.3" text-anchor="end" stroke="#000" stroke-width="0.2" fill="#000" transform="translate(429.70 406.50) rotate(-45)" dominant-baseline="central">IL-4 - medium</text>
<text x="0" y="0" font-size="8.3" text-anchor="end" stroke="#000" stroke-width="0.2" fill="#000" transform="translate(452.40 406.50) rotate(-45)" dominant-baseline="central">(IL-4+IL-13) - (IL-4+IL-13)</text>
<text x="0" y="0" font-size="8.3" text-anchor="end" stroke="#000" stroke-width="0.2" fill="#000" transform="translate(474.70 406.50) rotate(-45)" dominant-baseline="central">(IL-4+IL-13) - medium</text>
<text x="0" y="0" font-size="19.8" text-anchor="start" font-weight="bold" stroke="#000" stroke-width="0.2" fill="#000" transform="translate(1.40 507.30)">E</text>
<text x="0" y="0" font-size="13.8" text-anchor="start" stroke="#000" stroke-width="0.2" fill="#000" transform="translate(33.60 544.40)">Time</text>
<text x="0" y="0" font-size="13" text-anchor="start" stroke="#000" stroke-width="0.2" fill="#000" transform="translate(66.30 544.40)">(days)</text>
<text x="0" y="0" font-size="13" text-anchor="middle" stroke="#000" stroke-width="0.2" fill="#000" transform="translate(117.90 544.60) scale(1.000 1.050)">0</text>
<text x="0" y="0" font-size="13" text-anchor="middle" stroke="#000" stroke-width="0.2" fill="#000" transform="translate(150.60 544.60) scale(1.000 1.050)">1</text>
<text x="0" y="0" font-size="13" text-anchor="middle" stroke="#000" stroke-width="0.2" fill="#000" transform="translate(182.00 544.60) scale(1.000 1.050)">2</text>
<text x="0" y="0" font-size="13" text-anchor="middle" stroke="#000" stroke-width="0.2" fill="#000" transform="translate(215.20 544.60) scale(1.000 1.050)">4</text>
<text x="0" y="0" font-size="13" text-anchor="middle" stroke="#000" stroke-width="0.2" fill="#000" transform="translate(248.90 544.60) scale(1.000 1.050)">4</text>
<text x="0" y="0" font-size="11.2" text-anchor="middle" stroke="#000" stroke-width="0.2" fill="#000" transform="translate(185.00 525.30) scale(1.000 1.050)">IL-4 (continuous)</text>
<line x1="140.50" y1="529.70" x2="229.30" y2="529.70" stroke="#555" stroke-width="1.1"/>
<line x1="237.70" y1="529.70" x2="262.70" y2="529.70" stroke="#555" stroke-width="1.1"/>
<text x="0" y="0" font-size="10.8" text-anchor="start" stroke="#000" stroke-width="0.2" fill="#000" transform="translate(243.00 524.00) rotate(-45) scale(1.011 1.000)">IL-4 2 days</text>
<text x="0" y="0" font-size="10.8" text-anchor="start" stroke="#000" stroke-width="0.2" fill="#000" transform="translate(251.50 529.50) rotate(-45) scale(0.993 1.000)">+ medium 2 days</text>
<defs><filter id="bl" x="-30%" y="-150%" width="160%" height="400%"><feGaussianBlur stdDeviation="0.9"/></filter></defs>
<rect x="101.20" y="548.40" width="166.70" height="60.20" fill="#aeaeae"/>
<rect x="101.20" y="616.20" width="167.30" height="51.60" fill="#aeaeae"/>
<line x1="101.20" y1="548.90" x2="267.90" y2="548.90" stroke="#a2a2a2" stroke-width="1.0"/>
<line x1="101.20" y1="608.10" x2="267.90" y2="608.10" stroke="#9c9c9c" stroke-width="1.0"/>
<line x1="101.70" y1="548.40" x2="101.70" y2="608.60" stroke="#a4a4a4" stroke-width="1.0"/>
<line x1="101.70" y1="616.20" x2="101.70" y2="667.80" stroke="#a4a4a4" stroke-width="1.0"/>
<line x1="101.20" y1="616.70" x2="268.50" y2="616.70" stroke="#a2a2a2" stroke-width="1.0"/>
<rect x="108.8" y="576.6" width="21.000000000000014" height="3.6" rx="1.8" fill="#111" opacity="0.28" filter="url(#bl)"/>
<rect x="140" y="573.5" width="26" height="8.3" rx="3.5" fill="#111" opacity="1.0" filter="url(#bl)"/>
<rect x="172" y="573.8" width="25.80000000000001" height="8.0" rx="3.5" fill="#111" opacity="1.0" filter="url(#bl)"/>
<rect x="204.5" y="573.8" width="26.0" height="8.0" rx="3.5" fill="#111" opacity="1.0" filter="url(#bl)"/>
<rect x="238.5" y="576.0" width="23.0" height="3.6" rx="1.8" fill="#111" opacity="0.42" filter="url(#bl)"/>
<rect x="106.7" y="642.3" width="28.5" height="9.4" rx="4.2" fill="#141414" filter="url(#bl)"/>
<rect x="140" y="642.3" width="27.7" height="9.4" rx="4.2" fill="#141414" filter="url(#bl)"/>
<rect x="172.1" y="642.3" width="26.4" height="9.4" rx="4.2" fill="#141414" filter="url(#bl)"/>
<rect x="204.8" y="642.3" width="27.7" height="9.4" rx="4.2" fill="#141414" filter="url(#bl)"/>
<rect x="238.5" y="642.3" width="23.5" height="9.4" rx="4.2" fill="#141414" filter="url(#bl)"/>
<text x="0" y="0" font-size="13.9" text-anchor="start" stroke="#000" stroke-width="0.2" fill="#000" transform="translate(49.80 582.90) scale(1.000 1.050)">Jmjd3</text>
<text x="0" y="0" font-size="13.8" text-anchor="start" stroke="#000" stroke-width="0.2" fill="#000" transform="translate(272.50 582.40) scale(1.000 1.050)">181kD</text>
<text x="0" y="0" font-size="13.9" text-anchor="start" stroke="#000" stroke-width="0.2" fill="#000" transform="translate(46.80 650.80)">Gapdh</text>
<text x="0" y="0" font-size="13.8" text-anchor="start" stroke="#000" stroke-width="0.2" fill="#000" transform="translate(274.40 651.00) scale(1.000 1.050)">37kD</text>
<text x="0" y="0" font-size="19.8" text-anchor="start" font-weight="bold" stroke="#000" stroke-width="0.2" fill="#000" transform="translate(358.00 507.30)">F</text>
<line x1="398.10" y1="532.55" x2="398.10" y2="645.85" stroke="#000" stroke-width="1.7"/>
<line x1="394.10" y1="645.00" x2="398.10" y2="645.00" stroke="#000" stroke-width="1.7"/>
<text x="0" y="0" font-size="6.4" text-anchor="end" stroke="#000" stroke-width="0.2" fill="#000" transform="translate(392.90 647.42) scale(1.000 1.050)">0</text>
<line x1="394.10" y1="617.10" x2="398.10" y2="617.10" stroke="#000" stroke-width="1.7"/>
<text x="0" y="0" font-size="6.4" text-anchor="end" stroke="#000" stroke-width="0.2" fill="#000" transform="translate(392.90 619.52) scale(1.000 1.050)">1</text>
<line x1="394.10" y1="589.20" x2="398.10" y2="589.20" stroke="#000" stroke-width="1.7"/>
<text x="0" y="0" font-size="6.4" text-anchor="end" stroke="#000" stroke-width="0.2" fill="#000" transform="translate(392.90 591.62) scale(1.000 1.050)">2</text>
<line x1="394.10" y1="561.30" x2="398.10" y2="561.30" stroke="#000" stroke-width="1.7"/>
<text x="0" y="0" font-size="6.4" text-anchor="end" stroke="#000" stroke-width="0.2" fill="#000" transform="translate(392.90 563.72) scale(1.000 1.050)">3</text>
<line x1="394.10" y1="533.40" x2="398.10" y2="533.40" stroke="#000" stroke-width="1.7"/>
<text x="0" y="0" font-size="6.4" text-anchor="end" stroke="#000" stroke-width="0.2" fill="#000" transform="translate(392.90 535.82) scale(1.000 1.050)">4</text>
<line x1="397.25" y1="645.00" x2="472.70" y2="645.00" stroke="#000" stroke-width="1.7"/>
<line x1="416.60" y1="645.00" x2="416.60" y2="649.50" stroke="#000" stroke-width="1.7"/>
<line x1="453.60" y1="645.00" x2="453.60" y2="649.50" stroke="#000" stroke-width="1.7"/>
<line x1="416.70" y1="616.54" x2="416.70" y2="613.19" stroke="#000" stroke-width="1.3"/>
<line x1="410.45" y1="613.19" x2="422.95" y2="613.19" stroke="#000" stroke-width="1.5"/>
<rect x="404.80" y="617.34" width="23.80" height="27.66" fill="#fff" stroke="#000" stroke-width="1.6"/>
<line x1="453.60" y1="554.05" x2="453.60" y2="546.79" stroke="#000" stroke-width="1.3"/>
<line x1="447.35" y1="546.79" x2="459.85" y2="546.79" stroke="#000" stroke-width="1.5"/>
<rect x="440.50" y="554.05" width="26.20" height="90.95" fill="#000"/>
<text x="0" y="0" font-size="14" text-anchor="middle" stroke="#000" stroke-width="0.2" fill="#000" transform="translate(453.90 542.78)">*</text>
<text x="0" y="0" font-size="8.7" text-anchor="start" stroke="#000" stroke-width="0.2" fill="#000" transform="translate(402.00 541.00)">PM&#934;s</text>
<text x="0" y="0" font-size="8.9" text-anchor="middle" stroke="#000" stroke-width="0.2" fill="#000" transform="translate(416.20 659.00) scale(1.000 0.970)">medium</text>
<text x="0" y="0" font-size="8.9" text-anchor="middle" stroke="#000" stroke-width="0.2" fill="#000" transform="translate(453.20 659.00) scale(1.000 0.970)">IL-4</text>
<text x="0" y="0" font-size="10.8" text-anchor="middle" stroke="#000" stroke-width="0.2" fill="#000" transform="translate(382.80 588.50) rotate(-90) scale(1.001 1.000)"><tspan font-style="italic">Jmjd3</tspan> ('fold induction')</text>
<text x="0" y="0" font-size="19.8" text-anchor="start" font-weight="bold" stroke="#000" stroke-width="0.2" fill="#000" transform="translate(1.60 699.30)">G</text>
<line x1="34.50" y1="709.25" x2="34.50" y2="835.45" stroke="#000" stroke-width="1.7"/>
<line x1="30.10" y1="834.60" x2="34.50" y2="834.60" stroke="#000" stroke-width="1.7"/>
<text x="0" y="0" font-size="7.7" text-anchor="end" stroke="#000" stroke-width="0.2" fill="#000" transform="translate(29.10 837.65) scale(1.000 1.100)">0</text>
<line x1="30.10" y1="809.70" x2="34.50" y2="809.70" stroke="#000" stroke-width="1.7"/>
<text x="0" y="0" font-size="7.7" text-anchor="end" stroke="#000" stroke-width="0.2" fill="#000" transform="translate(29.10 812.75) scale(1.000 1.100)">1</text>
<line x1="30.10" y1="784.80" x2="34.50" y2="784.80" stroke="#000" stroke-width="1.7"/>
<text x="0" y="0" font-size="7.7" text-anchor="end" stroke="#000" stroke-width="0.2" fill="#000" transform="translate(29.10 787.85) scale(1.000 1.100)">2</text>
<line x1="30.10" y1="759.90" x2="34.50" y2="759.90" stroke="#000" stroke-width="1.7"/>
<text x="0" y="0" font-size="7.7" text-anchor="end" stroke="#000" stroke-width="0.2" fill="#000" transform="translate(29.10 762.95) scale(1.000 1.100)">3</text>
<line x1="30.10" y1="735.00" x2="34.50" y2="735.00" stroke="#000" stroke-width="1.7"/>
<text x="0" y="0" font-size="7.7" text-anchor="end" stroke="#000" stroke-width="0.2" fill="#000" transform="translate(29.10 738.05) scale(1.000 1.100)">4</text>
<line x1="30.10" y1="710.10" x2="34.50" y2="710.10" stroke="#000" stroke-width="1.7"/>
<text x="0" y="0" font-size="7.7" text-anchor="end" stroke="#000" stroke-width="0.2" fill="#000" transform="translate(29.10 713.15) scale(1.000 1.100)">5</text>
<line x1="33.65" y1="834.60" x2="160.70" y2="834.60" stroke="#000" stroke-width="1.7"/>
<line x1="44.80" y1="834.60" x2="44.80" y2="839.10" stroke="#000" stroke-width="1.7"/>
<line x1="65.58" y1="834.60" x2="65.58" y2="839.10" stroke="#000" stroke-width="1.7"/>
<line x1="86.36" y1="834.60" x2="86.36" y2="839.10" stroke="#000" stroke-width="1.7"/>
<line x1="107.14" y1="834.60" x2="107.14" y2="839.10" stroke="#000" stroke-width="1.7"/>
<line x1="127.92" y1="834.60" x2="127.92" y2="839.10" stroke="#000" stroke-width="1.7"/>
<line x1="148.70" y1="834.60" x2="148.70" y2="839.10" stroke="#000" stroke-width="1.7"/>
<rect x="37.30" y="808.70" width="15.00" height="25.90" fill="#000"/>
<line x1="65.58" y1="780.07" x2="65.58" y2="777.58" stroke="#000" stroke-width="1.3"/>
<line x1="62.58" y1="777.58" x2="68.58" y2="777.58" stroke="#000" stroke-width="1.5"/>
<rect x="58.08" y="780.07" width="15.00" height="54.53" fill="#000"/>
<line x1="86.36" y1="759.40" x2="86.36" y2="754.17" stroke="#000" stroke-width="1.3"/>
<line x1="83.36" y1="754.17" x2="89.36" y2="754.17" stroke="#000" stroke-width="1.5"/>
<rect x="78.86" y="759.40" width="15.00" height="75.20" fill="#000"/>
<line x1="107.14" y1="767.12" x2="107.14" y2="763.88" stroke="#000" stroke-width="1.3"/>
<line x1="104.14" y1="763.88" x2="110.14" y2="763.88" stroke="#000" stroke-width="1.5"/>
<rect x="99.64" y="767.12" width="15.00" height="67.48" fill="#000"/>
<line x1="127.92" y1="769.36" x2="127.92" y2="768.86" stroke="#000" stroke-width="1.3"/>
<line x1="124.92" y1="768.86" x2="130.92" y2="768.86" stroke="#000" stroke-width="1.5"/>
<rect x="120.42" y="769.36" width="15.00" height="65.24" fill="#000"/>
<line x1="148.70" y1="757.91" x2="148.70" y2="735.00" stroke="#000" stroke-width="1.3"/>
<line x1="145.70" y1="735.00" x2="151.70" y2="735.00" stroke="#000" stroke-width="1.5"/>
<rect x="141.20" y="757.91" width="15.00" height="76.69" fill="#000"/>
<text x="0" y="0" font-size="14" text-anchor="middle" stroke="#000" stroke-width="0.2" fill="#000" transform="translate(65.58 772.18)">*</text>
<text x="0" y="0" font-size="14" text-anchor="middle" stroke="#000" stroke-width="0.2" fill="#000" transform="translate(86.36 748.48)">*</text>
<text x="0" y="0" font-size="14" text-anchor="middle" stroke="#000" stroke-width="0.2" fill="#000" transform="translate(107.14 756.88)">*</text>
<text x="0" y="0" font-size="14" text-anchor="middle" stroke="#000" stroke-width="0.2" fill="#000" transform="translate(127.92 760.68)">*</text>
<text x="0" y="0" font-size="10.8" text-anchor="middle" stroke="#000" stroke-width="0.2" fill="#000" transform="translate(18.30 772.50) rotate(-90) scale(1.100 1.000)"><tspan font-style="italic">Jmjd3</tspan> ('fold induction')</text>
<text x="0" y="0" font-size="9.0" text-anchor="end" stroke="#000" stroke-width="0.2" fill="#000" transform="translate(44.50 845.60) rotate(-45)" dominant-baseline="central">medium</text>
<text x="0" y="0" font-size="9.0" text-anchor="end" stroke="#000" stroke-width="0.2" fill="#000" transform="translate(65.28 845.60) rotate(-45)" dominant-baseline="central">LPS 10ng/ml</text>
<text x="0" y="0" font-size="9.0" text-anchor="end" stroke="#000" stroke-width="0.2" fill="#000" transform="translate(86.06 845.60) rotate(-45)" dominant-baseline="central">LPS 100ng/ml</text>
<text x="0" y="0" font-size="9.0" text-anchor="end" stroke="#000" stroke-width="0.2" fill="#000" transform="translate(106.84 845.60) rotate(-45)" dominant-baseline="central">LPS 1&#956;g/ml</text>
<text x="0" y="0" font-size="9.0" text-anchor="end" stroke="#000" stroke-width="0.2" fill="#000" transform="translate(127.62 845.60) rotate(-45)" dominant-baseline="central">LPS 100ng/ml+IFN&#947;100 U/ml</text>
<text x="0" y="0" font-size="9.0" text-anchor="end" stroke="#000" stroke-width="0.2" fill="#000" transform="translate(148.40 845.60) rotate(-45)" dominant-baseline="central">CpG DNA 1&#956;M</text>
<text x="0" y="0" font-size="19.8" text-anchor="start" font-weight="bold" stroke="#000" stroke-width="0.2" fill="#000" transform="translate(169.90 699.30)">H</text>
<line x1="213.10" y1="714.90" x2="213.10" y2="835.85" stroke="#000" stroke-width="1.7"/>
<line x1="208.80" y1="835.00" x2="213.10" y2="835.00" stroke="#000" stroke-width="1.7"/>
<text x="0" y="0" font-size="7.6" text-anchor="end" stroke="#000" stroke-width="0.2" fill="#000" transform="translate(208.20 838.01) scale(1.000 1.100)">0</text>
<line x1="208.80" y1="811.15" x2="213.10" y2="811.15" stroke="#000" stroke-width="1.7"/>
<text x="0" y="0" font-size="7.6" text-anchor="end" stroke="#000" stroke-width="0.2" fill="#000" transform="translate(208.20 814.16) scale(1.000 1.100)">1</text>
<line x1="208.80" y1="787.30" x2="213.10" y2="787.30" stroke="#000" stroke-width="1.7"/>
<text x="0" y="0" font-size="7.6" text-anchor="end" stroke="#000" stroke-width="0.2" fill="#000" transform="translate(208.20 790.31) scale(1.000 1.100)">2</text>
<line x1="208.80" y1="763.45" x2="213.10" y2="763.45" stroke="#000" stroke-width="1.7"/>
<text x="0" y="0" font-size="7.6" text-anchor="end" stroke="#000" stroke-width="0.2" fill="#000" transform="translate(208.20 766.46) scale(1.000 1.100)">3</text>
<line x1="208.80" y1="739.60" x2="213.10" y2="739.60" stroke="#000" stroke-width="1.7"/>
<text x="0" y="0" font-size="7.6" text-anchor="end" stroke="#000" stroke-width="0.2" fill="#000" transform="translate(208.20 742.61) scale(1.000 1.100)">4</text>
<line x1="208.80" y1="715.75" x2="213.10" y2="715.75" stroke="#000" stroke-width="1.7"/>
<text x="0" y="0" font-size="7.6" text-anchor="end" stroke="#000" stroke-width="0.2" fill="#000" transform="translate(208.20 718.76) scale(1.000 1.100)">5</text>
<line x1="212.25" y1="835.00" x2="335.00" y2="835.00" stroke="#000" stroke-width="1.7"/>
<line x1="226.35" y1="810.43" x2="226.35" y2="808.53" stroke="#000" stroke-width="1.3"/>
<line x1="222.85" y1="808.53" x2="229.85" y2="808.53" stroke="#000" stroke-width="1.5"/>
<rect x="221.10" y="811.13" width="10.50" height="23.87" fill="#fff" stroke="#000" stroke-width="1.4"/>
<rect x="237.30" y="815.20" width="11.50" height="19.80" fill="#000"/>
<line x1="259.05" y1="813.77" x2="259.05" y2="811.39" stroke="#000" stroke-width="1.3"/>
<line x1="255.55" y1="811.39" x2="262.55" y2="811.39" stroke="#000" stroke-width="1.5"/>
<rect x="254.00" y="814.47" width="10.10" height="20.53" fill="#d8d8d8" stroke="#000" stroke-width="1.4"/>
<line x1="286.50" y1="760.47" x2="286.50" y2="754.51" stroke="#000" stroke-width="1.3"/>
<line x1="283.00" y1="754.51" x2="290.00" y2="754.51" stroke="#000" stroke-width="1.5"/>
<rect x="281.20" y="761.17" width="10.60" height="73.83" fill="#fff" stroke="#000" stroke-width="1.4"/>
<line x1="302.80" y1="747.95" x2="302.80" y2="734.83" stroke="#000" stroke-width="1.3"/>
<line x1="299.30" y1="734.83" x2="306.30" y2="734.83" stroke="#000" stroke-width="1.5"/>
<rect x="296.80" y="747.95" width="12.00" height="87.05" fill="#000"/>
<line x1="319.15" y1="762.73" x2="319.15" y2="757.49" stroke="#000" stroke-width="1.3"/>
<line x1="315.65" y1="757.49" x2="322.65" y2="757.49" stroke="#000" stroke-width="1.5"/>
<rect x="314.00" y="763.43" width="10.30" height="71.57" fill="#d8d8d8" stroke="#000" stroke-width="1.4"/>
<rect x="221.20" y="702.00" width="14.60" height="5.00" fill="#fff" stroke="#000" stroke-width="1.5"/>
<rect x="220.50" y="716.20" width="16.00" height="6.30" fill="#000"/>
<rect x="221.20" y="730.70" width="14.60" height="5.00" fill="#d8d8d8" stroke="#000" stroke-width="1.5"/>
<text x="0" y="0" font-size="10.0" text-anchor="start" stroke="#000" stroke-width="0.2" fill="#000" transform="translate(240.00 708.80) scale(1.000 1.100)">WT(C57BL/6)</text>
<text x="0" y="0" font-size="10.0" text-anchor="start" stroke="#000" stroke-width="0.2" fill="#000" transform="translate(240.00 723.00) scale(1.000 1.100)"><tspan font-style="italic">Myd88-/-</tspan></text>
<text x="0" y="0" font-size="10.0" text-anchor="start" stroke="#000" stroke-width="0.2" fill="#000" transform="translate(240.00 737.00) scale(1.000 1.100)"><tspan font-style="italic">Trif -/-</tspan></text>
<text x="0" y="0" font-size="9.5" text-anchor="middle" font-weight="bold" stroke="#000" stroke-width="0.2" fill="#000" transform="translate(242.70 849.00) scale(1.000 1.100)">medium</text>
<text x="0" y="0" font-size="9.5" text-anchor="middle" font-weight="bold" stroke="#000" stroke-width="0.2" fill="#000" transform="translate(302.30 849.00) scale(1.000 1.100)">IL-4</text>
<text x="0" y="0" font-size="10.5" text-anchor="middle" stroke="#000" stroke-width="0.2" fill="#000" transform="translate(197.40 774.20) rotate(-90) scale(1.091 1.000)"><tspan font-style="italic">Jmjd3</tspan> ('fold induction')</text>
</g>
</svg>
</body></html>
